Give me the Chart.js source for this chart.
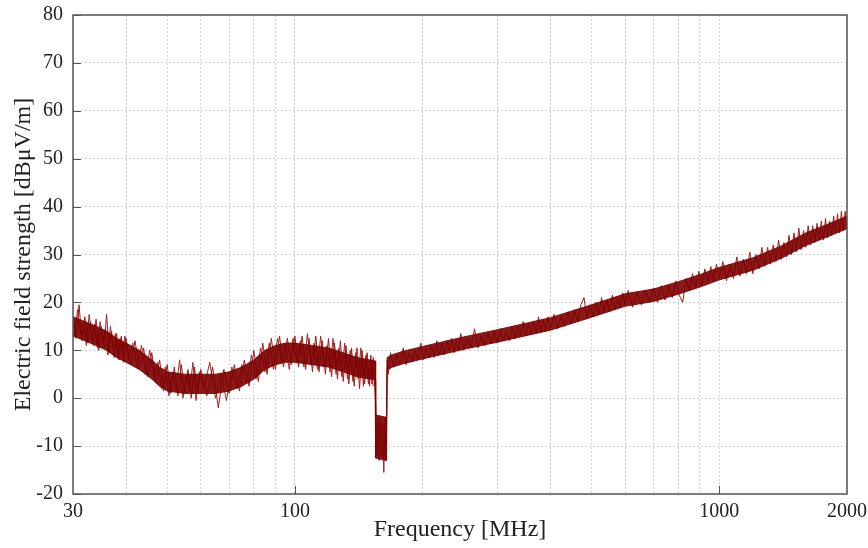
<!DOCTYPE html>
<html>
<head>
<meta charset="utf-8">
<script src="https://cdn.jsdelivr.net/npm/chart.js@4/dist/chart.umd.min.js"></script>
<style>
  html, body { margin: 0; padding: 0; background: #fff; }
  #wrap { width: 868px; height: 548px; }
</style>
</head>
<body>
<div id="wrap"><canvas id="c" width="868" height="548"></canvas></div>
<script>
// Frequency sample points [MHz]
const freqMHz = [
  30,30.5,31,31.5,32,32.5,33,33.5,34,34.5,35,35.5,36,36.5,37,37.5,38,38.5,39,39.5,40,
  41,42,43,44,45,46,47,48,49,50,51,52,53,54,55,56,57,58,59,60,
  62,64,66,68,70,72,74,76,78,80,82,84,86,88,90,92,94,96,98,100,
  102,104,106,108,110,112,114,116,118,120,122,124,126,128,130,132,134,136,138,140,142,144,146,148,150,
  151,152,153,154,155,156,157,158,159,160,161,162,163,164,165,166,
  168,171,174,177,180,183,186,189,192,195,198,201,204,207,210,213,216,219,222,225,228,231,234,237,240,243,246,
  250,255,260,265,270,275,280,285,290,295,300,305,310,315,320,325,330,335,340,345,350,355,360,365,370,375,380,385,390,395,400,
  408,416,424,432,440,448,456,464,472,480,488,496,504,512,520,528,536,544,552,560,568,576,584,592,600,
  610,625,640,655,670,685,700,715,730,745,760,775,790,805,820,835,850,865,880,895,910,925,940,955,970,985,1000,
  1020,1040,1060,1080,1100,1120,1140,1160,1180,1200,
  1220,1240,1260,1280,1300,1320,1340,1360,1380,1400,
  1420,1440,1460,1480,1500,1520,1540,1560,1580,1600,
  1620,1640,1660,1680,1700,1720,1740,1760,1780,1800,
  1820,1840,1860,1880,1900,1920,1940,1960,1980,2000
];
// Electric field strength [dBuV/m] at those points (noise peaks / troughs)
const fieldStrength = [
  17,12.5,19.5,12,17,11.5,16,11,16.5,10,15,10.5,17.5,9.5,14,8.5,13.5,8,13,7.5,12.5,
  7,12,6,10.5,4.5,9.5,3.5,8,1.5,7,1,6.5,0.5,7,1,6,0,6.5,1,6,
  0.5,6.5,-2,6,1,7,1.5,8,2.5,10,3.5,11.5,5,12.5,6,13,6.5,12.5,7,13,
  6.5,13,6,12.5,5.5,13,5.5,12,5,12.5,4.5,11.5,4,12,3.5,11,3,10.5,2.5,10.5,2,10,3,9.5,2.5,
  9,3,8.5,4,-1,-12,-4,-13,-4,-12,-5,-15.5,-4,-13,8,5,
  9.5,6.5,9,7,10.5,7,9.5,7.5,10,8,11.5,8,10.5,8.5,11,8.5,12,9,11.5,9,12,10,12.5,9.5,12,10,13.5,
  10,12.5,10.5,14.5,10.5,13,11,13.5,11.5,14,11.5,14.5,12,14,12,15,12.5,15,13,16,13,15.5,13.5,16,13.5,17,14,16.5,14,17,14.5,
  17.5,14.5,17,15,18,15.5,18.5,16,19.5,21,16.5,19.5,17,20,17.5,21,18,20.5,18,21.5,18.5,21,19,22,19.5,
  22.5,19,22,19.5,22.5,20,23,20,23.5,20.5,23.5,21,24.5,21.5,20,25,22.5,26,23,26.5,23.5,27,24,27.5,24.5,28,25,
  28.5,24.5,28,25,29.5,25.5,29,26,30.5,26,
  30,27,31.5,27.5,31.5,28,32,28.5,33,29,
  32.5,29.5,34,30,34.5,30.5,35.5,31,35,31.5,
  36,32,36,32.5,36.5,33,37,33,37.5,33.5,
  37,34,38,34.5,38.5,34.5,39,35,39,35.5
];
// Second sweep of the low band (30-154 MHz), interleaved between the points above
const freqMHzB = [
  30.25,30.75,31.25,31.75,32.25,32.75,33.25,33.75,34.25,34.75,35.25,35.75,36.25,36.75,37.25,37.75,38.25,38.75,39.25,39.75,
  40.5,41.5,42.5,43.5,44.5,45.5,46.5,47.5,48.5,49.5,50.5,51.5,52.5,53.5,54.5,55.5,56.5,57.5,58.5,59.5,
  61,63,65,67,69,71,73,75,77,79,81,83,85,87,89,91,93,95,97,99,
  101,103,105,107,109,111,113,115,117,119,121,123,125,127,129,131,133,135,137,139,141,143,145,147,149,151,153
];
const fieldStrengthB = [
  13,18.5,13.5,16,11,17.5,12.5,15.5,10.5,16,11.5,14.5,9,15,10.5,13.5,8.5,12.5,9,13,
  8,11.5,6.5,11,5,10,4.5,7.5,2,6.5,0.5,5.5,2,8,0,5,1.5,7.5,-0.5,5.5,
  2,7.5,0,5,-0.5,6.5,2,7,3,9,4,10.5,5.5,11.5,6,12.5,7.5,11.5,6,12.5,
  7.5,12,6.5,13.5,7,11.5,6,13,6.5,11,5.5,12.5,5,10.5,4.5,11.5,4,10,3.5,9.5,4,10.5,2.5,9,3,8,2.5
];
// Dense core of the trace: frequency and its lower / upper edge [dBuV/m]
const coreFreqMHz = [30,32,34,36,38,40,43,46,48,50,55,60,65,70,75,80,85,90,95,100,110,120,130,140,150,154.5,155,164.5,165,170,180,200,250,300,400,500,600,700,800,900,1000,1200,1400,1600,1800,2000];
const coreLow     = [13,12,11,10,8.5,7.5,6,4,2.5,1.5,1,1,1,1.5,2.5,4,6,7,7.5,7.5,7,6.5,5.5,4.5,4,3.8,-12.5,-13,5.9,6.5,7.2,8.2,10.2,11.7,14.2,16.9,19.2,20.2,21.7,23.2,24.7,26.7,29.2,31.9,33.7,35.4];
const coreHigh    = [17,16,15,14,12.5,11.5,10,8,6.5,5.5,5,5,5,5.5,6.5,8,10,11,11.5,11.5,11,10.5,9.5,8.5,8,7.8,-3.5,-4,8.5,9.1,9.8,10.8,12.8,14.3,16.8,19.5,21.8,22.8,24.3,25.8,27.3,29.3,31.8,34.5,36.3,38];

const yTickValues = [-20,-10,0,10,20,30,40,50,60,70,80];
const xGridValues = [30,40,50,60,70,80,90,100,200,300,400,500,600,700,800,900,1000,2000];
const xLabelValues = [30,100,1000,2000];
const xMajorTicks = [100,1000];

const serif = "'Liberation Serif', 'Times New Roman', serif";
Chart.defaults.font.family = serif;
Chart.defaults.color = '#222';

const framePlugin = {
  id: 'frame',
  afterDatasetsDraw(chart) {
    const {ctx, chartArea: a, scales: {x, y}} = chart;
    ctx.save();
    ctx.strokeStyle = '#555';
    ctx.lineWidth = 1;
    ctx.beginPath();
    yTickValues.forEach(v => {
      const py = Math.round(y.getPixelForValue(v)) + 0.5;
      ctx.moveTo(a.left, py); ctx.lineTo(a.left + 8, py);
    });
    xMajorTicks.forEach(v => {
      const px = Math.round(x.getPixelForValue(v)) + 0.5;
      ctx.moveTo(px, a.bottom); ctx.lineTo(px, a.bottom - 8);
    });
    ctx.stroke();
    ctx.lineWidth = 1.5;
    ctx.strokeRect(a.left, a.top, a.right - a.left, a.bottom - a.top);
    ctx.restore();
  }
};

const toPts = (fs, vs) => fs.map((f, i) => ({x: f, y: vs[i]}));
const traceStyle = { borderWidth: 1, pointRadius: 0, tension: 0, fill: false, order: 2 };

new Chart(document.getElementById('c'), {
  type: 'line',
  data: {
    datasets: [
      Object.assign({ data: toPts(freqMHz, fieldStrength), borderColor: '#9a1c1c' }, traceStyle),
      Object.assign({ data: toPts(freqMHzB, fieldStrengthB), borderColor: '#a32626' }, traceStyle),
      {
        data: toPts(coreFreqMHz, coreLow),
        borderColor: 'rgba(125,0,0,0.9)', borderWidth: 1,
        pointRadius: 0, tension: 0, fill: false, order: 1
      }, {
        data: toPts(coreFreqMHz, coreHigh),
        borderColor: 'rgba(125,0,0,0.9)', backgroundColor: 'rgba(125,0,0,0.9)', borderWidth: 1,
        pointRadius: 0, tension: 0, fill: '-1', order: 1
      }
    ]
  },
  options: {
    responsive: false,
    animation: false,
    events: [],
    layout: { padding: { top: 15, right: 21, bottom: 0, left: 0 } },
    plugins: { legend: { display: false }, tooltip: { enabled: false } },
    scales: {
      x: {
        type: 'logarithmic',
        min: 30, max: 2000,
        afterBuildTicks: s => { s.ticks = xGridValues.map(v => ({value: v})); },
        afterFit: s => { s.height = 54; s.paddingLeft = 0; s.paddingRight = 0; },
        ticks: {
          autoSkip: false, maxRotation: 0, padding: 6,
          font: { size: 20, family: serif }, color: '#222',
          callback: v => xLabelValues.includes(v) ? String(v) : ''
        },
        grid: { color: '#d2d2d2', lineWidth: 1, drawTicks: false },
        border: { display: false, dash: [2, 2] },
        title: { display: true, text: 'Frequency [MHz]', font: { size: 24, family: serif }, color: '#222', padding: { top: 0, bottom: 4 } }
      },
      y: {
        min: -20, max: 80,
        afterBuildTicks: s => { s.ticks = yTickValues.map(v => ({value: v})); },
        afterFit: s => { s.width = 73; s.paddingTop = 0; s.paddingBottom = 0; },
        ticks: { padding: 10, font: { size: 20, family: serif }, color: '#222' },
        grid: { color: '#d2d2d2', lineWidth: 1, drawTicks: false },
        border: { display: false, dash: [2, 2] },
        title: { display: true, text: 'Electric field strength [dBμV/m]', font: { size: 24, family: serif }, color: '#222', padding: { top: 9, bottom: 0 } }
      }
    }
  },
  plugins: [framePlugin]
});
</script>
</body>
</html>
